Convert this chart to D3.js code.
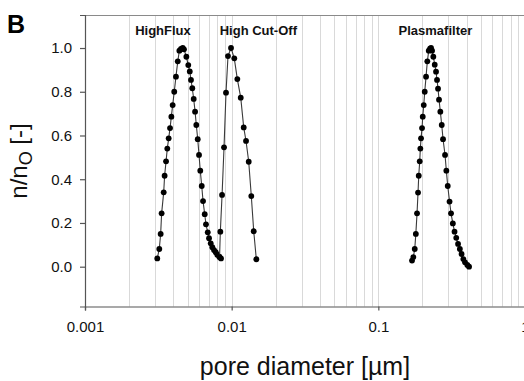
<!DOCTYPE html>
<html>

<head>
  <meta charset="utf-8">
  <title>Pore size distribution</title>
  <script src="https://d3js.org/d3.v7.min.js"></script>
  <style>
    body {
      margin: 0;
      background: #ffffff;
      font-family: "Liberation Sans", Arial, sans-serif;
    }

    .axis path,
    .axis line {
      stroke: #555555;
      stroke-width: 1.2px;
    }

    .axis text {
      font-family: "Liberation Sans", Arial, sans-serif;
      font-size: 15px;
      fill: #111111;
    }

    .grid line {
      stroke: #d9d9d9;
      stroke-width: 1px;
    }

    .curve {
      fill: none;
      stroke: #3a3a3a;
      stroke-width: 1.1px;
    }
  </style>
</head>

<body>
  <div id="chart"></div>

  <script>
    // pore diameter [µm] and normalised number n/nO
    const highFluxD = [0.00311, 0.00321, 0.00328, 0.00333, 0.00344, 0.00349, 0.00357, 0.00364, 0.00372, 0.00380,
      0.00388, 0.00396, 0.00406, 0.00417, 0.00429, 0.00440, 0.00451, 0.00464, 0.00473, 0.00491,
      0.00506, 0.00518, 0.00528, 0.00539, 0.00551, 0.00563, 0.00574, 0.00587, 0.00599, 0.00611,
      0.00625, 0.00638, 0.00655, 0.00668, 0.00687, 0.00701, 0.00720, 0.00738, 0.00758, 0.00779,
      0.00798, 0.00824, 0.00846];
    const highFluxN = [0.038, 0.081, 0.150, 0.244, 0.340, 0.416, 0.482, 0.540, 0.587, 0.634,
      0.686, 0.739, 0.800, 0.869, 0.939, 0.988, 0.996, 1.000, 0.994, 0.960,
      0.922, 0.893, 0.854, 0.816, 0.767, 0.709, 0.648, 0.583, 0.511, 0.439,
      0.369, 0.300, 0.240, 0.194, 0.157, 0.130, 0.107, 0.089, 0.076, 0.066,
      0.055, 0.046, 0.038];

    const highCutOffD = [0.00827, 0.00837, 0.00860, 0.00887, 0.00915, 0.00944, 0.00990, 0.01042,
      0.01093, 0.01153, 0.01208, 0.01253, 0.01307, 0.01361, 0.01414, 0.01473];
    const highCutOffN = [0.044, 0.160, 0.328, 0.546, 0.796, 0.963, 1.000, 0.953,
      0.858, 0.773, 0.637, 0.575, 0.480, 0.323, 0.162, 0.034];

    const plasmaD = [0.1697, 0.1732, 0.1771, 0.1802, 0.1836, 0.1865, 0.1886, 0.1915, 0.1934, 0.1955,
      0.1986, 0.2008, 0.2040, 0.2072, 0.2115, 0.2158, 0.2207, 0.2252, 0.2288, 0.2324,
      0.2371, 0.2424, 0.2474, 0.2513, 0.2553, 0.2593, 0.2647, 0.2706, 0.2762, 0.2850,
      0.2909, 0.2973, 0.3059, 0.3131, 0.3221, 0.3308, 0.3398, 0.3496, 0.3596, 0.3694,
      0.3799, 0.3902, 0.4045, 0.4155];
    const plasmaN = [0.028, 0.044, 0.081, 0.150, 0.244, 0.339, 0.416, 0.482, 0.540, 0.587,
      0.634, 0.686, 0.739, 0.800, 0.869, 0.939, 0.988, 0.997, 1.000, 0.988,
      0.960, 0.924, 0.892, 0.854, 0.814, 0.764, 0.709, 0.648, 0.583, 0.511,
      0.439, 0.369, 0.298, 0.244, 0.198, 0.160, 0.132, 0.104, 0.081, 0.058,
      0.035, 0.020, 0.008, 0.000];

    const seriesNames = ["HighFlux", "High Cut-Off", "Plasmafilter"];
    const xTicks = [0.001, 0.01, 0.1, 1];
    const xTickLabels = ["0.001", "0.01", "0.1", "1"];
    const yTicks = [0.0, 0.2, 0.4, 0.6, 0.8, 1.0];

    // chart size and plot box
    const W = 524, H = 381;
    const plotLeft = 85, plotRight = 525, plotTop = 15, plotBottom = 306.5;

    const svg = d3.select("#chart")
      .append("svg")
      .attr("width", W)
      .attr("height", H);

    const x = d3.scaleLog().domain([0.001, 1]).range([plotLeft, plotRight]);
    const y = d3.scaleLinear().domain([-0.182, 1.151]).range([plotBottom, plotTop]);

    // vertical grid lines at every log tick
    svg.append("g")
      .attr("class", "grid")
      .selectAll("line")
      .data(x.ticks().filter(d => d > 0.001))
      .join("line")
      .attr("x1", d => Math.round(x(d)) + 0.5)
      .attr("x2", d => Math.round(x(d)) + 0.5)
      .attr("y1", plotTop)
      .attr("y2", plotBottom);

    // top frame line
    svg.append("line")
      .attr("x1", plotLeft).attr("x2", W)
      .attr("y1", plotTop + 0.5).attr("y2", plotTop + 0.5)
      .style("stroke", "#8a8a8a")
      .style("stroke-width", 1.2);

    // axes
    svg.append("g")
      .attr("class", "axis")
      .attr("transform", `translate(0, ${plotBottom})`)
      .call(d3.axisBottom(x).tickValues(xTicks).tickSize(4).tickPadding(11)
        .tickFormat((d, i) => xTickLabels[i]));

    svg.append("g")
      .attr("class", "axis")
      .attr("transform", `translate(${plotLeft}, 0)`)
      .call(d3.axisLeft(y).tickValues(yTicks).tickSize(5).tickPadding(8)
        .tickFormat(d3.format(".1f")));

    // series
    const series = [
      { name: seriesNames[0], d: highFluxD, n: highFluxN },
      { name: seriesNames[1], d: highCutOffD, n: highCutOffN },
      { name: seriesNames[2], d: plasmaD, n: plasmaN }
    ];

    const line = d3.line()
      .x(p => x(p[0]))
      .y(p => y(p[1]));

    series.forEach(s => {
      const pts = s.d.map((d, i) => [d, s.n[i]]);
      svg.append("path")
        .datum(pts)
        .attr("class", "curve")
        .attr("d", line);
      svg.append("g")
        .selectAll("circle")
        .data(pts)
        .join("circle")
        .attr("cx", p => x(p[0]))
        .attr("cy", p => y(p[1]))
        .attr("r", 2.9)
        .style("fill", "#000000");
    });

    // series labels (diameter where each label is centred)
    const labelAt = [0.0034, 0.0152, 0.245];
    svg.selectAll(".series-label")
      .data(seriesNames)
      .join("text")
      .attr("class", "series-label")
      .attr("x", (d, i) => x(labelAt[i]))
      .attr("y", 35)
      .attr("text-anchor", "middle")
      .style("font-size", "13px")
      .style("font-weight", "bold")
      .style("fill", "#111")
      .text(d => d);

    // axis titles
    svg.append("text")
      .attr("x", (plotLeft + plotRight) / 2)
      .attr("y", 375)
      .attr("text-anchor", "middle")
      .style("font-size", "25px")
      .style("fill", "#111")
      .text("pore diameter [µm]");

    const yTitle = svg.append("text")
      .attr("transform", "translate(27, 161) rotate(-90)")
      .attr("text-anchor", "middle")
      .style("font-size", "24px")
      .style("fill", "#111");
    yTitle.append("tspan").text("n/n");
    yTitle.append("tspan").attr("dy", 5).style("font-size", "18px").text("O");
    yTitle.append("tspan").attr("dy", -5).text(" [-]");

    // panel letter
    svg.append("text")
      .attr("x", 7)
      .attr("y", 33)
      .style("font-size", "25px")
      .style("font-weight", "bold")
      .style("fill", "#000")
      .text("B");
  </script>
</body>

</html>
